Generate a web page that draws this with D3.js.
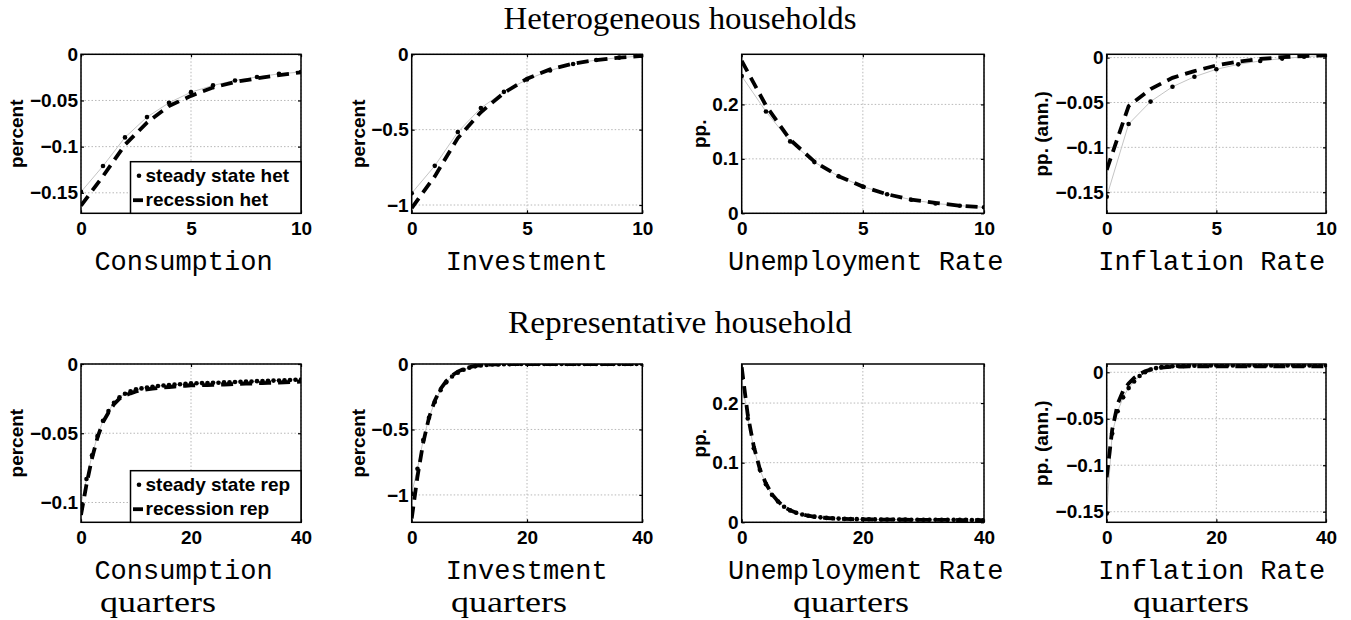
<!DOCTYPE html>
<html><head><meta charset="utf-8">
<script src="https://cdn.jsdelivr.net/npm/d3@7/dist/d3.min.js"></script>
<style>body{margin:0;background:#fff}svg{display:block}</style>
</head><body><svg id="c" width="1351" height="620"></svg>
<script>
// ---------- data ----------
const quartersHet = [0,1,2,3,4,5,6,7,8,9,10];
const quartersRep = d3.range(0, 41);
const xTicksHet = [0, 5, 10];
const xTicksRep = [0, 20, 40];

const rowTitles = ["Heterogeneous households", "Representative household"];
const variableNames = ["Consumption", "Investment", "Unemployment Rate", "Inflation Rate"];
const yLabels = ["percent", "percent", "pp.", "pp. (ann.)"];
const legendHet = ["steady state het", "recession het"];
const legendRep = ["steady state rep", "recession rep"];
const xAxisLabel = "quarters";

const yTicksCons = [0, -0.05, -0.1, -0.15];
const yTicksInv = [0, -0.5, -1];
const yTicksUnemp = [0, 0.1, 0.2];
const yTicksInfl = [0, -0.05, -0.1, -0.15];
const yTicksConsRep = [0, -0.05, -0.1];

// heterogeneous households (0..10 quarters)
const consHetSS  = [-0.149,-0.121,-0.090,-0.068,-0.0525,-0.041,-0.0337,-0.0283,-0.0246,-0.0212,-0.0192];
const consHetRec = [-0.164,-0.132,-0.098,-0.074,-0.056,-0.045,-0.036,-0.030,-0.026,-0.0225,-0.0195];
const invHetSS   = [-0.922,-0.740,-0.516,-0.356,-0.249,-0.167,-0.107,-0.064,-0.038,-0.022,-0.011];
const invHetRec  = [-1.02,-0.81,-0.556,-0.384,-0.256,-0.162,-0.100,-0.062,-0.038,-0.022,-0.011];
const unempHetSS = [0.252,0.187,0.132,0.094,0.068,0.049,0.035,0.025,0.018,0.014,0.011];
const unempHetRec= [0.280,0.198,0.135,0.095,0.068,0.049,0.035,0.025,0.019,0.014,0.011];
const inflHetSS  = [-0.155,-0.074,-0.049,-0.0325,-0.0213,-0.013,-0.0075,-0.0037,-0.0011,0.001,0.0026];
const inflHetRec = [-0.125,-0.054,-0.035,-0.0225,-0.015,-0.0087,-0.0045,-0.0015,0.0005,0.0018,0.0026];

// representative household (0..40 quarters)
const consRepSS = [-0.101,-0.083,-0.066,-0.052,-0.041,-0.034,-0.028,-0.024,-0.0215,-0.0198,-0.0183,-0.0176,-0.0170,-0.0164,-0.0159,-0.0155,-0.0152,-0.0149,-0.0146,-0.0143,-0.0140,-0.0139,-0.0138,-0.0137,-0.0136,-0.0135,-0.0133,-0.0132,-0.0130,-0.0129,-0.0127,-0.0126,-0.0124,-0.0123,-0.0121,-0.0120,-0.0119,-0.0117,-0.0115,-0.0114,-0.0112];
const consRepRec = [-0.109,-0.087,-0.068,-0.053,-0.042,-0.035,-0.029,-0.025,-0.0228,-0.0212,-0.0198,-0.0190,-0.0184,-0.0178,-0.0173,-0.0169,-0.0166,-0.0163,-0.0160,-0.0157,-0.0155,-0.0154,-0.0153,-0.0152,-0.0151,-0.0150,-0.0148,-0.0147,-0.0145,-0.0144,-0.0142,-0.0141,-0.0139,-0.0138,-0.0136,-0.0135,-0.0134,-0.0132,-0.0130,-0.0129,-0.0127];
const invRepSS = [-0.99,-0.80,-0.58,-0.41,-0.29,-0.20,-0.14,-0.095,-0.066,-0.044,-0.028,-0.018,-0.011,-0.007,-0.004,-0.003,-0.002,-0.001,0,0,0,0,0,0,0,0,0,0,0,0,0,0,0,0,0,0,0,0,0,0,0];
const invRepRec = [-1.18,-0.86,-0.60,-0.41,-0.28,-0.19,-0.13,-0.088,-0.058,-0.038,-0.024,-0.015,-0.009,-0.005,-0.003,-0.002,-0.001,0,0,0,0,0,0,0,0,0,0,0,0,0,0,0,0,0,0,0,0,0,0,0,0];
const unempRepSS = [0.242,0.174,0.124,0.088,0.064,0.046,0.035,0.026,0.020,0.016,0.013,0.011,0.0095,0.0083,0.0074,0.0067,0.0062,0.0058,0.0055,0.0053,0.0051,0.0050,0.0049,0.0048,0.0047,0.0046,0.0045,0.0045,0.0044,0.0044,0.0043,0.0043,0.0042,0.0042,0.0041,0.0041,0.0040,0.0040,0.0039,0.0039,0.0038];
const unempRepRec = [0.260,0.180,0.127,0.089,0.065,0.047,0.035,0.026,0.020,0.016,0.013,0.011,0.0093,0.0081,0.0072,0.0065,0.0060,0.0056,0.0053,0.0051,0.0049,0.0048,0.0047,0.0046,0.0045,0.0044,0.0043,0.0043,0.0042,0.0042,0.0041,0.0041,0.0040,0.0040,0.0039,0.0039,0.0038,0.0038,0.0037,0.0037,0.0036];
const inflRepSS = [-0.152,-0.066,-0.042,-0.027,-0.017,-0.010,-0.004,0.000,0.003,0.0045,0.0055,0.0060,0.0064,0.0067,0.0069,0.0070,0.0071,0.0072,0.0072,0.0073,0.0073,0.0073,0.0073,0.0073,0.0073,0.0073,0.0073,0.0073,0.0073,0.0073,0.0073,0.0073,0.0073,0.0073,0.0073,0.0073,0.0073,0.0073,0.0073,0.0073,0.0073];
const inflRepRec = [-0.113,-0.062,-0.034,-0.020,-0.012,-0.006,-0.002,0.001,0.003,0.004,0.005,0.0055,0.0058,0.0060,0.0062,0.0063,0.0064,0.0064,0.0064,0.0064,0.0064,0.0064,0.0064,0.0064,0.0064,0.0064,0.0064,0.0064,0.0064,0.0064,0.0064,0.0064,0.0064,0.0064,0.0064,0.0064,0.0064,0.0064,0.0064,0.0064,0.0064];

// ---------- layout ----------
const rows = [
  {y0:54.3, y1:213.3, headY:28.5, headW:353, titleY:269.5, x:quartersHet, xd:[0,10], xt:xTicksHet, legend:legendHet, quarters:false},
  {y0:364, y1:522.3, headY:333.3, headW:344, titleY:579, x:quartersRep, xd:[0,40], xt:xTicksRep, legend:legendRep, quarters:true}
];
const cols = [
  {x0:81,    x1:301,   ylx:22.5, tx:183.5, qx:158},
  {x0:411.7, x1:642.3, ylx:365,  tx:526.7, qx:509},
  {x0:741.7, x1:984,   ylx:706,  tx:865.8, qx:851},
  {x0:1106.7,x1:1326,  ylx:1047.5, tx:1211.7, qx:1191}
];
const panels = [
  {r:0,c:0, dom:[-0.1722,0],      yt:yTicksCons,   ss:consHetSS,  rec:consHetRec,  leg:true},
  {r:0,c:1, dom:[-1.055,0],       yt:yTicksInv,    ss:invHetSS,   rec:invHetRec},
  {r:0,c:2, dom:[0,0.292],        yt:yTicksUnemp,  ss:unempHetSS, rec:unempHetRec},
  {r:0,c:3, dom:[-0.1735,0.0037], yt:yTicksInfl,   ss:inflHetSS,  rec:inflHetRec},
  {r:1,c:0, dom:[-0.1143,0],      yt:yTicksConsRep,ss:consRepSS,  rec:consRepRec,  leg:true},
  {r:1,c:1, dom:[-1.209,0],       yt:yTicksInv,    ss:invRepSS,   rec:invRepRec},
  {r:1,c:2, dom:[0,0.2655],       yt:yTicksUnemp,  ss:unempRepSS, rec:unempRepRec},
  {r:1,c:3, dom:[-0.1614,0.0089], yt:yTicksInfl,   ss:inflRepSS,  rec:inflRepRec}
];

const svg = d3.select("#c");
const SANS = "'Liberation Sans', Arial, Helvetica, sans-serif";
const SERIF = "'Liberation Serif', 'Times New Roman', serif";
const MONO = "'Liberation Mono', 'Courier New', monospace";
const fmt = v => v === 0 ? "0" : (v < 0 ? "\u2212" : "") + Math.abs(v);

rows.forEach((row, i) => {
  svg.append("text").attr("x", 680).attr("y", row.headY).attr("text-anchor","middle")
    .style("font-family", SERIF).style("font-size","31px")
    .attr("textLength", row.headW).attr("lengthAdjust", "spacingAndGlyphs").text(rowTitles[i]);
});

panels.forEach((p, idx) => {
  const row = rows[p.r], col = cols[p.c];
  const x = d3.scaleLinear().domain(row.xd).range([col.x0, col.x1]);
  const y = d3.scaleLinear().domain(p.dom).range([row.y1, row.y0]);
  const g = svg.append("g");
  const cid = "clip" + idx;
  svg.append("clipPath").attr("id", cid).append("rect")
    .attr("x", col.x0).attr("y", row.y0).attr("width", col.x1 - col.x0).attr("height", row.y1 - row.y0);

  // grid
  g.selectAll(".gy").data(p.yt).join("line")
    .attr("x1", col.x0).attr("x2", col.x1).attr("y1", d => y(d)).attr("y2", d => y(d))
    .attr("stroke", "#b8b8b8").attr("stroke-width", 1).attr("stroke-dasharray", "1.5,2");
  g.selectAll(".gx").data(row.xt).join("line")
    .attr("y1", row.y0).attr("y2", row.y1).attr("x1", d => x(d)).attr("x2", d => x(d))
    .attr("stroke", "#b8b8b8").attr("stroke-width", 1).attr("stroke-dasharray", "1.5,2");

  const plot = g.append("g").attr("clip-path", `url(#${cid})`);
  const line = d3.line().x((d, i) => x(row.x[i])).y(d => y(d));
  plot.append("path").datum(p.ss).attr("d", line).attr("fill", "none")
    .attr("stroke", "#c4c4c4").attr("stroke-width", 1);
  plot.selectAll("circle").data(p.ss).join("circle")
    .attr("cx", (d, i) => x(row.x[i])).attr("cy", d => y(d)).attr("r", 2.3).attr("fill", "#000");
  plot.append("path").datum(p.rec).attr("d", line).attr("fill", "none")
    .attr("stroke", "#000").attr("stroke-width", 3.8).attr("stroke-dasharray", "12,7");

  // axes
  const styleAx = a => {
    a.select(".domain").remove();
    a.selectAll("line").attr("stroke", "#000").attr("stroke-width", 1.2);
    a.selectAll("text").style("font-family", SANS).style("font-size", "19px")
      .style("font-weight", "bold").attr("fill", "#000");
  };
  g.append("g").attr("transform", `translate(${col.x0},0)`)
    .call(d3.axisLeft(y).tickValues(p.yt).tickFormat(fmt).tickSize(-3).tickPadding(3)).call(styleAx);
  g.append("g").attr("transform", `translate(${col.x1},0)`)
    .call(d3.axisRight(y).tickValues(p.yt).tickFormat("").tickSize(-3)).call(styleAx);
  g.append("g").attr("transform", `translate(0,${row.y1})`)
    .call(d3.axisBottom(x).tickValues(row.xt).tickFormat(d3.format("d")).tickSize(-3).tickPadding(8)).call(styleAx);
  g.append("g").attr("transform", `translate(0,${row.y0})`)
    .call(d3.axisTop(x).tickValues(row.xt).tickFormat("").tickSize(-3)).call(styleAx);

  g.append("rect").attr("x", col.x0).attr("y", row.y0).attr("width", col.x1 - col.x0)
    .attr("height", row.y1 - row.y0).attr("fill", "none").attr("stroke", "#000").attr("stroke-width", 1.5);

  // y label
  g.append("text").attr("transform", `translate(${col.ylx},${(row.y0 + row.y1) / 2}) rotate(-90)`)
    .attr("text-anchor", "middle").style("font-family", SANS).style("font-size", "19px")
    .style("font-weight", "bold").text(yLabels[p.c]);

  // title
  g.append("text").attr("x", col.tx).attr("y", row.titleY).attr("text-anchor", "middle")
    .style("font-family", MONO).style("font-size", "27px").text(variableNames[p.c]);
  if (row.quarters) {
    g.append("text").attr("x", col.qx).attr("y", 612).attr("text-anchor", "middle")
      .style("font-family", SERIF).style("font-size", "29px")
      .attr("textLength", 116).attr("lengthAdjust", "spacingAndGlyphs").text(xAxisLabel);
  }

  // legend
  if (p.leg) {
    const lw = 170.5, lh = 51.6;
    const lg = g.append("g").attr("transform", `translate(${col.x1 - lw},${row.y1 - lh})`);
    lg.append("rect").attr("width", lw).attr("height", lh).attr("fill", "#fff")
      .attr("stroke", "#000").attr("stroke-width", 1.5);
    lg.append("circle").attr("cx", 8.5).attr("cy", 14).attr("r", 2.3).attr("fill", "#000");
    lg.append("line").attr("x1", 2.5).attr("x2", 12.5).attr("y1", 38.5).attr("y2", 38.5)
      .attr("stroke", "#000").attr("stroke-width", 3.8);
    [row.legend[0], row.legend[1]].forEach((t, k) => {
      lg.append("text").attr("x", 15).attr("y", k === 0 ? 20.5 : 44)
        .style("font-family", SANS).style("font-size", "19px").style("font-weight", "bold").text(t);
    });
  }
});
</script>
</body></html>
